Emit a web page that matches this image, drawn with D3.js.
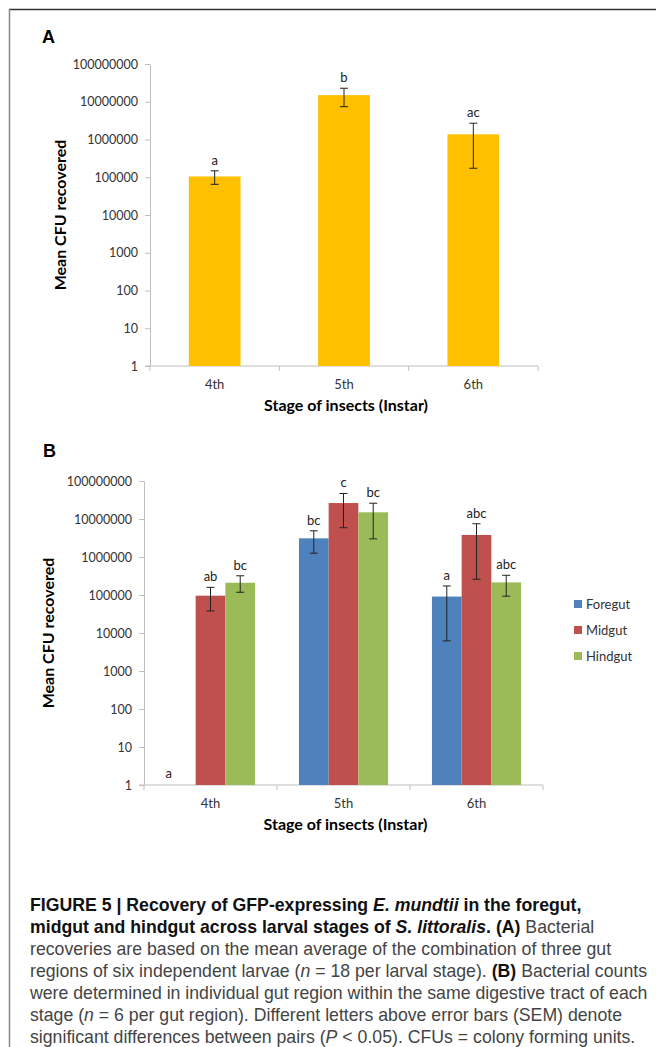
<!DOCTYPE html>
<html>
<head>
<meta charset="utf-8">
<script src="https://cdn.jsdelivr.net/npm/d3@7"></script>
<style>
  body { margin: 0; background: #fff; }
  svg { display: block; }
</style>
</head>
<body>
<div id="chart"></div>
<script>
// categories
var stages = ["4th", "5th", "6th"];
var guts = ["Foregut", "Midgut", "Hindgut"];
var yTicks = [1, 10, 100, 1000, 10000, 100000, 1000000, 10000000, 100000000];

// panel A: mean CFU, error bar ends, letters
var meanA = [105000, 15000000, 1370000];
var highA = [148000, 22800000, 2700000];
var lowA = [65000, 7400000, 173000];
var letterA = ["a", "b", "ac"];

// panel B: per gut region (null = nothing recovered)
var foregut = [null, 3100000, 91000];
var foregutHigh = [null, 4900000, 173000];
var foregutLow = [null, 1260000, 6200];
var foregutLetter = ["a", "bc", "a"];

var midgut = [96000, 26300000, 3800000];
var midgutHigh = [159000, 47000000, 7500000];
var midgutLow = [38000, 5900000, 260000];
var midgutLetter = ["ab", "c", "abc"];

var hindgut = [210000, 15000000, 215000];
var hindgutHigh = [320000, 26000000, 330000];
var hindgutLow = [118000, 3000000, 93000];
var hindgutLetter = ["bc", "bc", "abc"];

var gutColors = ["#4F81BD", "#C0504D", "#9BBB59"];

function init() {
    var w = 656, h = 1047;
    var font = "Lato, 'Open Sans', sans-serif";

    var svg = d3.select("#chart").append("svg")
        .attr("width", w).attr("height", h);

    svg.append("rect").attr("width", w).attr("height", h).attr("fill", "#fff");

    // frame
    svg.append("line").attr("x1", 9).attr("x2", w).attr("y1", 9.5).attr("y2", 9.5)
        .attr("stroke", "#333").attr("stroke-width", 1.5);
    svg.append("line").attr("x1", 9.5).attr("x2", 9.5).attr("y1", 9).attr("y2", h)
        .attr("stroke", "#888").attr("stroke-width", 1.5);

    function drawAxes(g, x, y, left, right, base, titleOff) {
        var yAxis = d3.axisLeft(y)
            .tickValues(yTicks)
            .tickFormat(d3.format("d"))
            .tickSize(5)
            .tickSizeOuter(0)
            .tickPadding(7);
        var ya = g.append("g").attr("transform", "translate(" + left + ",0)").call(yAxis);
        ya.select(".domain").attr("stroke", "#bfbfbf");
        ya.selectAll(".tick line").attr("stroke", "#bfbfbf");
        ya.selectAll(".tick text").attr("fill", "#333")
            .style("font-family", font).style("font-size", "12.5px");

        // x axis line and category boundary ticks
        g.append("line").attr("x1", left - 5).attr("x2", right)
            .attr("y1", base).attr("y2", base).attr("stroke", "#bfbfbf");
        var step = x.step();
        var bounds = d3.range(stages.length + 1).map(function(i) { return left + i * step; });
        g.selectAll(".bound").data(bounds).enter().append("line")
            .attr("x1", function(d) { return d; }).attr("x2", function(d) { return d; })
            .attr("y1", base).attr("y2", base + 5).attr("stroke", "#bfbfbf");

        g.selectAll(".cat").data(stages).enter().append("text")
            .attr("x", function(d) { return x(d) + x.bandwidth() / 2; })
            .attr("y", base + 23)
            .attr("text-anchor", "middle")
            .attr("fill", "#333")
            .style("font-family", font).style("font-size", "13px")
            .text(function(d) { return d; });

        g.append("text")
            .attr("x", (left + right) / 2 + 2).attr("y", base + 45)
            .attr("text-anchor", "middle")
            .style("font-family", font).style("font-size", "16px").style("font-weight", "bold")
            .text("Stage of insects (Instar)");

        g.append("text")
            .attr("transform", "translate(" + (left - titleOff) + "," + ((y.range()[0] + y.range()[1]) / 2) + ") rotate(-90)")
            .attr("text-anchor", "middle")
            .style("font-family", font).style("font-size", "16px").style("font-weight", "bold")
            .text("Mean CFU recovered");
    }

    function errBar(g, cx, hi, lo, y) {
        g.append("line").attr("x1", cx).attr("x2", cx).attr("y1", y(hi)).attr("y2", y(lo))
            .attr("stroke", "#222").attr("stroke-width", 1);
        [hi, lo].forEach(function(v) {
            g.append("line").attr("x1", cx - 4).attr("x2", cx + 4).attr("y1", y(v)).attr("y2", y(v))
                .attr("stroke", "#222").attr("stroke-width", 1);
        });
    }

    // ---------- Panel A ----------
    var ax0 = 150, ax1 = 538, aTop = 64, aBase = 366;
    var gA = svg.append("g");
    gA.append("text").attr("x", 42).attr("y", 43)
        .style("font-family", "'Liberation Sans', Arial, sans-serif").style("font-size", "18px")
        .style("font-weight", "bold").text("A");

    var xA = d3.scaleBand().domain(stages).range([ax0, ax1]).paddingInner(0.6).paddingOuter(0.3);
    var yA = d3.scaleLog().domain([1, 1e8]).range([aBase, aTop]);

    drawAxes(gA, xA, yA, ax0, ax1, aBase, 84);

    gA.selectAll(".barA").data(stages).enter().append("rect")
        .attr("x", function(d) { return xA(d); })
        .attr("y", function(d, i) { return yA(meanA[i]); })
        .attr("width", xA.bandwidth())
        .attr("height", function(d, i) { return aBase - yA(meanA[i]); })
        .attr("fill", "#FFC000");

    stages.forEach(function(s, i) {
        var cx = xA(s) + xA.bandwidth() / 2;
        errBar(gA, cx, highA[i], lowA[i], yA);
        gA.append("text").attr("x", cx).attr("y", yA(highA[i]) - 6)
            .attr("text-anchor", "middle").attr("fill", "#222")
            .style("font-family", font).style("font-size", "13px")
            .text(letterA[i]);
    });

    // ---------- Panel B ----------
    var bx0 = 144, bx1 = 543, bTop = 481, bBase = 785;
    var gB = svg.append("g");
    gB.append("text").attr("x", 43).attr("y", 457)
        .style("font-family", "'Liberation Sans', Arial, sans-serif").style("font-size", "18px")
        .style("font-weight", "bold").text("B");

    var x0 = d3.scaleBand().domain(stages).range([bx0, bx1]).paddingInner(0.33).paddingOuter(0.165);
    var x1 = d3.scaleBand().domain(guts).range([0, x0.bandwidth()]);
    var yB = d3.scaleLog().domain([1, 1e8]).range([bBase, bTop]);

    drawAxes(gB, x0, yB, bx0, bx1, bBase, 90);

    var seriesB = [
        { name: "Foregut", v: foregut, hi: foregutHigh, lo: foregutLow, lab: foregutLetter },
        { name: "Midgut", v: midgut, hi: midgutHigh, lo: midgutLow, lab: midgutLetter },
        { name: "Hindgut", v: hindgut, hi: hindgutHigh, lo: hindgutLow, lab: hindgutLetter }
    ];

    seriesB.forEach(function(s, k) {
        stages.forEach(function(st, i) {
            var bx = x0(st) + x1(s.name);
            var cx = bx + x1.bandwidth() / 2;
            if (s.v[i] == null) {
                // nothing recovered: letter sits on the baseline
                gB.append("text").attr("x", cx - 12).attr("y", bBase - 7)
                    .attr("text-anchor", "middle").attr("fill", "#222")
                    .style("font-family", font).style("font-size", "13px")
                    .text(s.lab[i]);
                return;
            }
            gB.append("rect")
                .attr("x", bx).attr("y", yB(s.v[i]))
                .attr("width", x1.bandwidth())
                .attr("height", bBase - yB(s.v[i]))
                .attr("fill", gutColors[k]);
            errBar(gB, cx, s.hi[i], s.lo[i], yB);
            gB.append("text").attr("x", cx).attr("y", yB(s.hi[i]) - 6)
                .attr("text-anchor", "middle").attr("fill", "#222")
                .style("font-family", font).style("font-size", "13px")
                .text(s.lab[i]);
        });
    });

    // legend
    var leg = gB.selectAll(".leg").data(guts).enter().append("g")
        .attr("transform", function(d, i) { return "translate(574," + (604 + i * 26) + ")"; });
    leg.append("rect").attr("x", 0).attr("y", -4).attr("width", 8).attr("height", 8)
        .attr("fill", function(d, i) { return gutColors[i]; });
    leg.append("text").attr("x", 12).attr("y", 4.5)
        .attr("fill", "#333")
        .style("font-family", font).style("font-size", "13px")
        .text(function(d) { return d; });

    // ---------- Caption ----------
    var capLines = [
        [["FIGURE 5 | Recovery of GFP-expressing ", "b"], ["E. mundtii", "bi"], [" in the foregut,", "b"]],
        [["midgut and hindgut across larval stages of ", "b"], ["S. littoralis", "bi"], [". (A)", "b"], [" Bacterial", "n"]],
        [["recoveries are based on the mean average of the combination of three gut", "n"]],
        [["regions of six independent larvae (", "n"], ["n", "i"], [" = 18 per larval stage). ", "n"], ["(B)", "b"], [" Bacterial counts", "n"]],
        [["were determined in individual gut region within the same digestive tract of each", "n"]],
        [["stage (", "n"], ["n", "i"], [" = 6 per gut region). Different letters above error bars (SEM) denote", "n"]],
        [["significant differences between pairs (", "n"], ["P", "i"], [" < 0.05). CFUs = colony forming units.", "n"]]
    ];
    var cap = svg.append("g");
    capLines.forEach(function(line, li) {
        var t = cap.append("text").attr("x", 30).attr("y", 911 + li * 22)
            .style("font-family", "'Liberation Sans', Arial, sans-serif")
            .style("font-size", "15px");
        line.forEach(function(part) {
            t.append("tspan")
                .attr("fill", part[1].indexOf("b") >= 0 ? "#111" : "#444")
                .style("font-weight", part[1].indexOf("b") >= 0 ? "bold" : "normal")
                .style("font-style", part[1].indexOf("i") >= 0 ? "italic" : "normal")
                .text(part[0]);
        });
    });
    // fit the longest line to the width of the reference text block
    var maxW = 0;
    cap.selectAll("text").each(function() { maxW = Math.max(maxW, this.getComputedTextLength()); });
    var fs = 15 * 618 / maxW;
    cap.selectAll("text").style("font-size", fs + "px");
}

window.onload = init;
</script>
</body>
</html>
